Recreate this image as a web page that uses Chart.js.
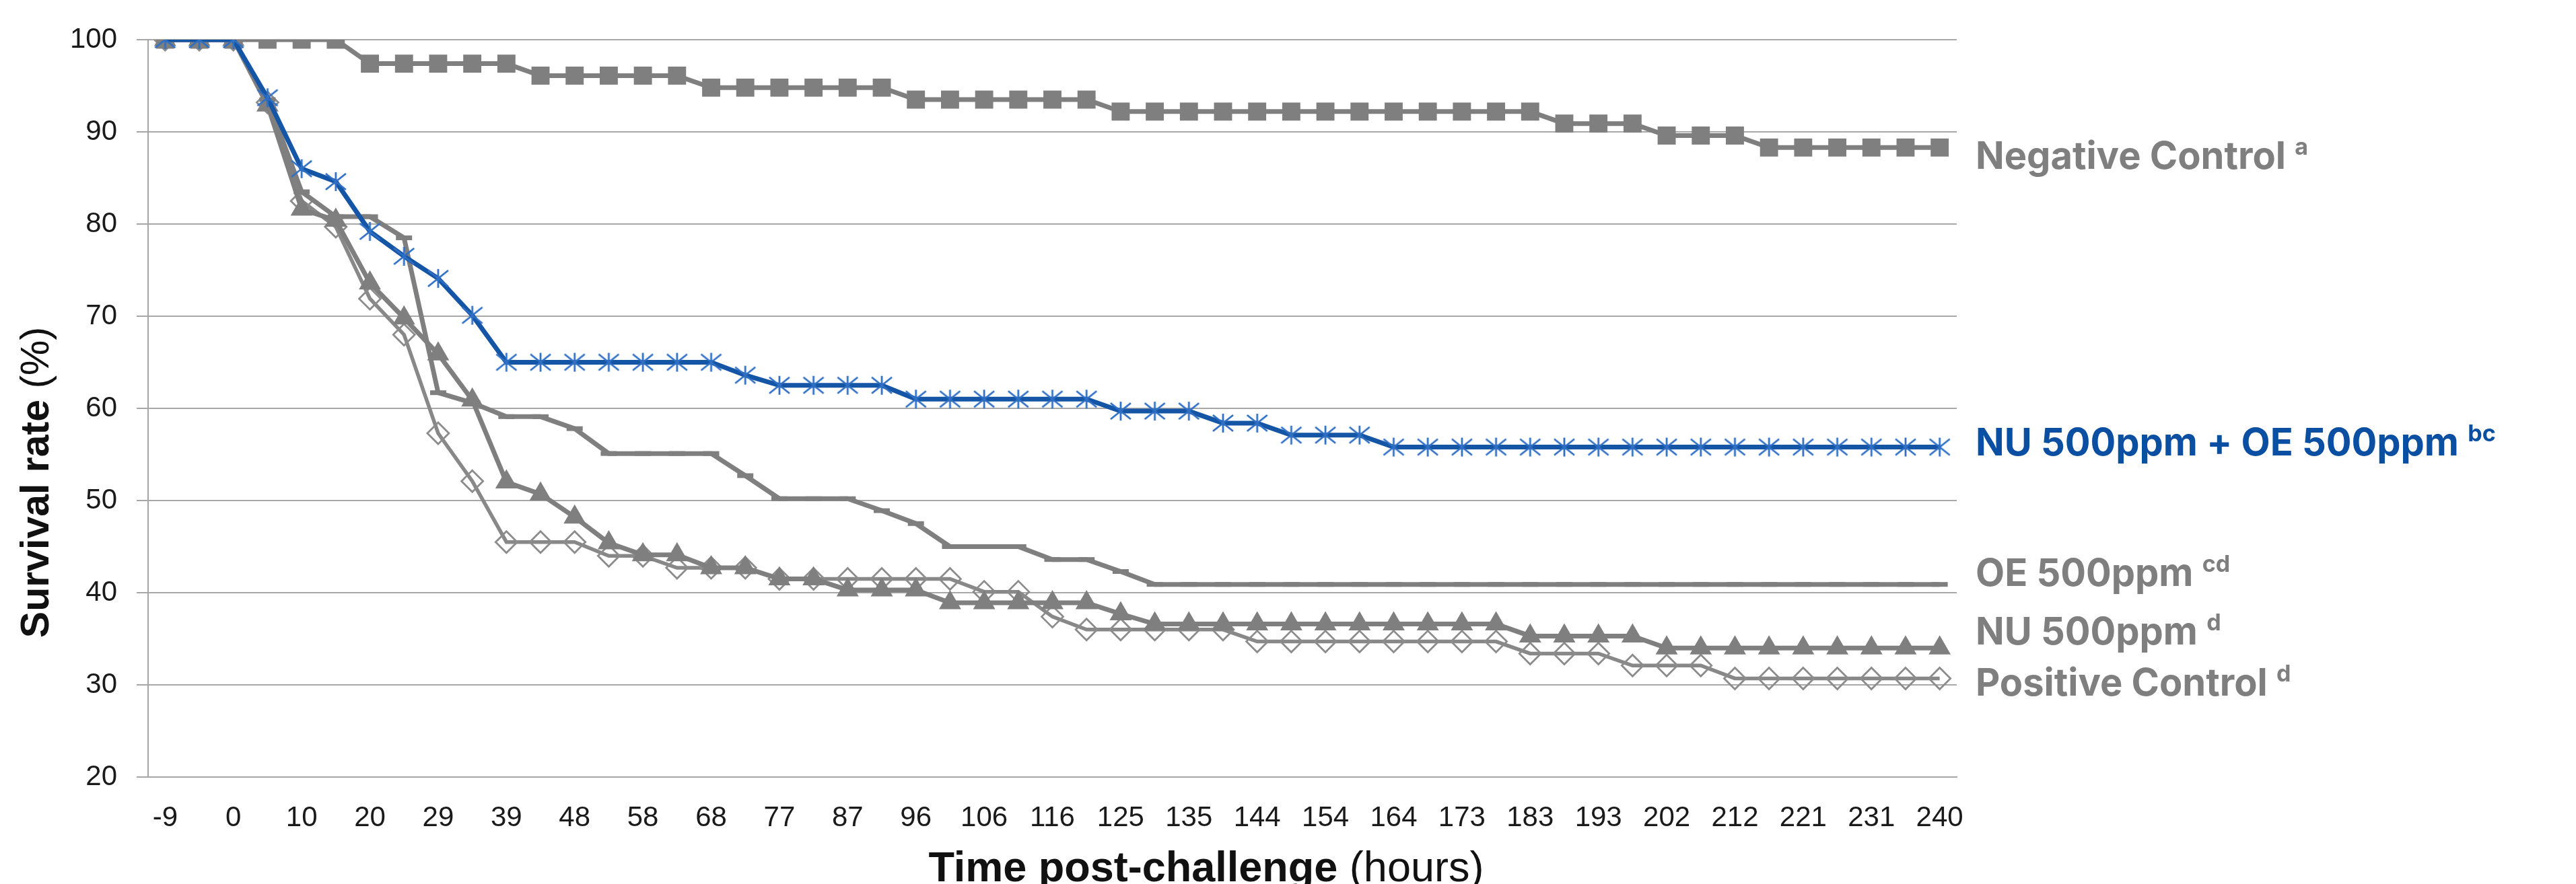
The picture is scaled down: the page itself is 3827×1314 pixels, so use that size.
<!DOCTYPE html>
<html>
<head>
<meta charset="utf-8">
<title>Survival rate</title>
<script src="https://cdn.jsdelivr.net/npm/chart.js@4.4.1/dist/chart.umd.min.js"></script>
<style>
  html, body { margin: 0; padding: 0; background: #fff; }
  #wrap { width: 3827px; height: 1314px; }
</style>
</head>
<body>
<div id="wrap"><canvas id="survivalChart" width="3827" height="1314"></canvas></div>
<script>
// --- data (hours post-challenge, survival %) ---
const hours = ['-9','-5','0','5','10','15','20','24','29','34','39','44','48','53','58','63','68','72',
  '77','82','87','92','96','101','106','111','116','120','125','130','135','140','144','149','154','159',
  '164','168','173','178','183','188','193','197','202','207','212','216','221','226','231','236','240'];

const negativeControl = [100,100,100,100,100,100,97.4,97.4,97.4,97.4,97.4,96.1,96.1,96.1,96.1,96.1,
  94.8,94.8,94.8,94.8,94.8,94.8,93.5,93.5,93.5,93.5,93.5,93.5,92.2,92.2,92.2,92.2,92.2,92.2,92.2,
  92.2,92.2,92.2,92.2,92.2,92.2,90.9,90.9,90.9,89.6,89.6,89.6,88.3,88.3,88.3,88.3,88.3,88.3];

const nuOe = [100,100,100,93.7,86.0,84.6,79.2,76.5,74.1,70.1,65.0,65.0,65.0,65.0,65.0,65.0,65.0,
  63.6,62.5,62.5,62.5,62.5,61.0,61.0,61.0,61.0,61.0,61.0,59.7,59.7,59.7,58.4,58.4,57.1,57.1,57.1,
  55.8,55.8,55.8,55.8,55.8,55.8,55.8,55.8,55.8,55.8,55.8,55.8,55.8,55.8,55.8,55.8,55.8];

const oe = [100,100,100,93.5,83.5,80.8,80.8,78.5,61.7,60.6,59.1,59.1,57.8,55.1,55.1,55.1,55.1,
  52.7,50.2,50.2,50.2,48.9,47.5,45.0,45.0,45.0,43.6,43.6,42.3,40.9,40.9,40.9,40.9,40.9,40.9,40.9,
  40.9,40.9,40.9,40.9,40.9,40.9,40.9,40.9,40.9,40.9,40.9,40.9,40.9,40.9,40.9,40.9,40.9];

const nu = [100,100,100,92.9,81.6,80.4,73.6,69.8,65.9,60.9,52.0,50.7,48.2,45.4,44.1,44.1,42.7,
  42.7,41.5,41.5,40.3,40.3,40.3,38.9,38.9,38.9,38.9,38.9,37.7,36.6,36.6,36.6,36.6,36.6,36.6,36.6,
  36.6,36.6,36.6,36.6,35.3,35.3,35.3,35.3,34.0,34.0,34.0,34.0,34.0,34.0,34.0,34.0,34.0];

const positiveControl = [100,100,100,93.2,82.5,79.7,71.9,68.0,57.3,52.1,45.5,45.5,45.5,44.0,44.0,
  42.7,42.7,42.7,41.5,41.5,41.5,41.5,41.5,41.5,40.1,40.1,37.4,36.0,36.0,36.0,36.0,36.0,34.7,34.7,
  34.7,34.7,34.7,34.7,34.7,34.7,33.4,33.4,33.4,32.1,32.1,32.1,30.7,30.7,30.7,30.7,30.7,30.7,30.7];

const seriesNames = ['Negative Control', 'NU 500ppm + OE 500ppm', 'OE 500ppm', 'NU 500ppm', 'Positive Control'];
const seriesLetters = ['a', 'bc', 'cd', 'd', 'd'];
const yTicks = [20, 30, 40, 50, 60, 70, 80, 90, 100];

const GREY = '#7f7f7f';
const BLUE = '#1455a6';
const BLUE_TEXT = '#0b4fa3';

// excel style asterisk marker (X plus vertical bar)
function starMarker(color) {
  const c = document.createElement('canvas');
  c.width = 34; c.height = 30;
  const g = c.getContext('2d');
  g.strokeStyle = color;
  g.lineWidth = 2.8;
  g.beginPath();
  g.moveTo(17, 1); g.lineTo(17, 29);
  g.moveTo(2, 3); g.lineTo(32, 27);
  g.moveTo(32, 3); g.lineTo(2, 27);
  g.stroke();
  return c;
}

// labels beside the last points + the two axis titles
const textPlugin = {
  id: 'sideText',
  afterDraw(chart) {
    const { ctx, chartArea, scales: { y } } = chart;
    const baselines = [86.0, 54.9, 40.7, 34.4, 28.8];
    const colors = [GREY, BLUE_TEXT, GREY, GREY, GREY];
    ctx.save();
    ctx.textAlign = 'left';
    ctx.textBaseline = 'alphabetic';
    seriesNames.forEach((name, i) => {
      const x = chartArea.right + 28;
      const yy = y.getPixelForValue(baselines[i]);
      ctx.fillStyle = colors[i];
      ctx.font = '700 56px Inter';
      ctx.fillText(name, x, yy);
      const w = ctx.measureText(name + ' ').width;
      ctx.font = '700 34px Inter';
      ctx.fillText(seriesLetters[i], x + w, yy - 21);
    });

    // x title: bold part + regular part
    ctx.fillStyle = '#111';
    const boldX = 'Time post-challenge';
    const regX = ' (hours)';
    ctx.font = '700 63px "Liberation Sans"';
    const wb = ctx.measureText(boldX).width;
    ctx.font = '400 63px "Liberation Sans"';
    const wr = ctx.measureText(regX).width;
    const cx = chartArea.left + (chartArea.right - chartArea.left) * 0.585;
    let sx = cx - (wb + wr) / 2;
    ctx.font = '700 63px "Liberation Sans"';
    ctx.fillText(boldX, sx, 1310);
    ctx.font = '400 63px "Liberation Sans"';
    ctx.fillText(regX, sx + wb, 1310);

    // y title, rotated
    const boldY = 'Survival rate ';
    const regY = '(%)';
    ctx.translate(72, 717);
    ctx.rotate(-Math.PI / 2);
    ctx.font = '700 59px "Liberation Sans"';
    const wby = ctx.measureText(boldY).width;
    ctx.font = '400 59px "Liberation Sans"';
    const wry = ctx.measureText(regY).width;
    sx = -(wby + wry) / 2;
    ctx.font = '700 59px "Liberation Sans"';
    ctx.fillText(boldY, sx, 0);
    ctx.font = '400 59px "Liberation Sans"';
    ctx.fillText(regY, sx + wby, 0);
    ctx.restore();
  }
};

const ctx = document.getElementById('survivalChart').getContext('2d');
new Chart(ctx, {
  type: 'line',
  data: {
    labels: hours,
    datasets: [
      {
        label: seriesNames[0], data: negativeControl, order: 1,
        borderColor: GREY, borderWidth: 7,
        pointStyle: 'rect', pointRadius: 19, pointBackgroundColor: GREY, pointBorderWidth: 0
      },
      {
        label: seriesNames[1], data: nuOe, order: 0,
        borderColor: BLUE, borderWidth: 7,
        pointStyle: starMarker('#2f6fc4'), pointRadius: 16
      },
      {
        label: seriesNames[2], data: oe, order: 2,
        borderColor: GREY, borderWidth: 7,
        pointStyle: 'line', pointRadius: 12, pointBorderColor: GREY, pointBorderWidth: 7
      },
      {
        label: seriesNames[3], data: nu, order: 3,
        borderColor: GREY, borderWidth: 7,
        pointStyle: 'triangle', pointRadius: 19, pointBackgroundColor: GREY, pointBorderWidth: 0
      },
      {
        label: seriesNames[4], data: positiveControl, order: 4,
        borderColor: '#888', borderWidth: 5.5,
        pointStyle: 'rectRot', pointRadius: 16, pointBackgroundColor: 'rgba(0,0,0,0)',
        pointBorderColor: '#8c8c8c', pointBorderWidth: 2.8
      }
    ]
  },
  options: {
    responsive: false,
    devicePixelRatio: 1,
    animation: false,
    layout: { padding: { left: 0, right: 920, top: 59, bottom: 0 } },
    plugins: { legend: { display: false }, tooltip: { enabled: false } },
    elements: { line: { tension: 0 } },
    scales: {
      x: {
        type: 'category',
        offset: true,
        grid: { display: false, drawTicks: false },
        border: { display: true, color: '#a6a6a6', width: 2 },
        ticks: {
          autoSkip: false, maxRotation: 0, minRotation: 0, padding: 36,
          color: '#1a1a1a', font: { family: '"Liberation Sans"', size: 42 },
          callback: function (v, i) { return i % 2 === 0 ? this.getLabelForValue(v) : ''; }
        },
        afterFit: s => { s.height = 159; }
      },
      y: {
        min: 20, max: 100,
        afterBuildTicks: s => { s.ticks = yTicks.map(v => ({ value: v })); },
        grid: {
          color: '#a8a8a8', lineWidth: 2, borderDash: [4, 3],
          tickLength: 17, tickBorderDash: [], tickColor: '#a6a6a6', tickWidth: 2
        },
        border: { display: true, color: '#a6a6a6', width: 2 },
        ticks: {
          padding: 29, color: '#1a1a1a',
          font: { family: '"Liberation Sans"', size: 42 }
        },
        afterFit: s => { s.width = 220; }
      }
    }
  },
  plugins: [textPlugin]
});
</script>
</body>
</html>
